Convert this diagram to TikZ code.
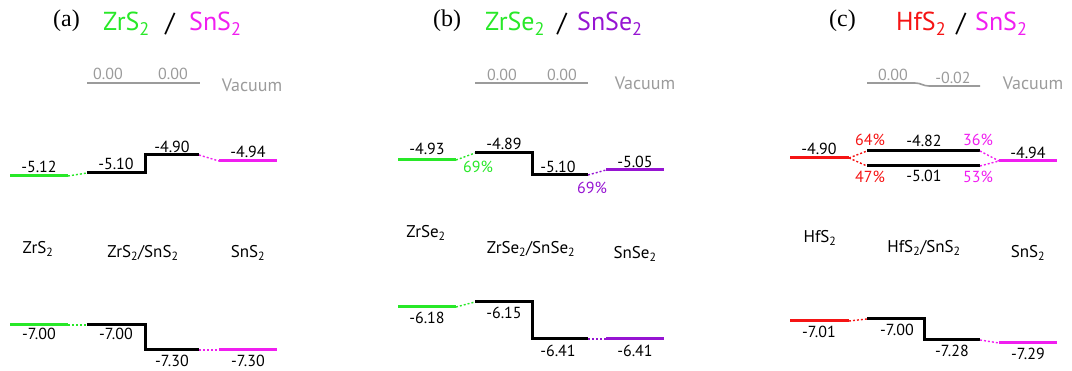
\documentclass[tikz,border=0pt]{standalone}
\usepackage{fontspec}
\setsansfont{PT Sans}
\setmainfont{Liberation Serif}
\usepackage{xcolor}
\definecolor{cgreen}{RGB}{40,232,40}
\definecolor{cmag}{RGB}{240,30,240}
\definecolor{cpurp}{RGB}{150,20,210}
\definecolor{cred}{RGB}{245,20,20}
\definecolor{cgray}{RGB}{155,155,155}
\begin{document}
\begin{tikzpicture}[x=1pt,y=-1pt,
  lvl/.style={line width=3pt},
  conn/.style={line width=1.4pt,dash pattern=on 2pt off 2pt},
  vac/.style={line width=1.6pt,cgray},
  num/.style={font=\sffamily\fontsize{16}{18}\selectfont,inner sep=0pt},
  vnum/.style={num,text=cgray},
  vacl/.style={font=\sffamily\fontsize{18}{20}\selectfont,text=cgray,inner sep=0pt},
  mat/.style={font=\sffamily\fontsize{17}{19}\selectfont,inner sep=0pt,anchor=base},
  ttl/.style={font=\sffamily\fontsize{26}{30}\selectfont,inner sep=0pt,anchor=base west},
  plab/.style={font=\rmfamily\fontsize{24}{27}\selectfont,inner sep=0pt,anchor=base west},
  slash/.style={font=\sffamily\fontsize{26}{30}\selectfont,inner sep=0pt}]
\path[use as bounding box] (0,0) rectangle (1072,371);

%% ================= panel (a) =================
\node[plab] (ta) at (53,27) {(a)};
\node[ttl,text=cgreen] (ta1) at (103,31) {ZrS\textsubscript{2}};
\node[slash] (ta2) at (170,24) {/};
\node[ttl,text=cmag] (ta3) at (189,31) {SnS\textsubscript{2}};
% vacuum
\coordinate (av1) at (87,83); \coordinate (av2) at (200,83);
\draw[vac] (av1) -- (av2);
\node[vnum] (avl1) at (108,74) {0.00};
\node[vnum] (avl2) at (173,74) {0.00};
\node[vacl] (avac) at (252,85) {Vacuum};
% CB
\coordinate (aZc1) at (10,176); \coordinate (aZc2) at (68,176);
\coordinate (aHc1) at (87,173); \coordinate (aHc2) at (145,173);
\coordinate (aHc3) at (145,155); \coordinate (aHc4) at (199,155);
\coordinate (aSc1) at (219,161); \coordinate (aSc2) at (277,161);
\draw[lvl,cgreen] (aZc1) -- (aZc2);
\draw[conn,cgreen] (aZc2) -- (aHc1);
\draw[lvl] (aHc1) -- (aHc2) -- (aHc3) -- (aHc4);
\draw[conn,cmag] (aHc4) -- (aSc1);
\draw[lvl,cmag] (aSc1) -- (aSc2);
\node[num] (an1) at (39,167) {-5.12};
\node[num] (an2) at (116,164) {-5.10};
\node[num] (an3) at (172,147) {-4.90};
\node[num] (an4) at (248,152) {-4.94};
% names
\node[mat] (am1) at (38,254) {ZrS\textsubscript{2}};
\node[mat] (am2) at (143,258) {ZrS\textsubscript{2}/SnS\textsubscript{2}};
\node[mat] (am3) at (248,258) {SnS\textsubscript{2}};
% VB
\coordinate (aZv1) at (10,325); \coordinate (aZv2) at (68,325);
\coordinate (aHv1) at (87,325); \coordinate (aHv2) at (145,325);
\coordinate (aHv3) at (145,350); \coordinate (aHv4) at (199,350);
\coordinate (aSv1) at (219,350); \coordinate (aSv2) at (277,350);
\draw[lvl,cgreen] (aZv1) -- (aZv2);
\draw[conn,cgreen] (aZv2) -- (aHv1);
\draw[lvl] (aHv1) -- (aHv2) -- (aHv3) -- (aHv4);
\draw[conn,cmag] (aHv4) -- (aSv1);
\draw[lvl,cmag] (aSv1) -- (aSv2);
\node[num] (an5) at (39,334) {-7.00};
\node[num] (an6) at (116,334) {-7.00};
\node[num] (an7) at (172,361) {-7.30};
\node[num] (an8) at (248,361) {-7.30};

%% ================= panel (b) =================
\node[plab] (tb) at (433,27) {(b)};
\node[ttl,text=cgreen] (tb1) at (485,31) {ZrSe\textsubscript{2}};
\node[slash] (tb2) at (562,24) {/};
\node[ttl,text=cpurp] (tb3) at (577,31) {SnSe\textsubscript{2}};
\coordinate (bv1) at (475,83); \coordinate (bv2) at (588,83);
\draw[vac] (bv1) -- (bv2);
\node[vnum] (bvl1) at (502,75) {0.00};
\node[vnum] (bvl2) at (562,75) {0.00};
\node[vacl] (bvac) at (645,83) {Vacuum};
% CB
\coordinate (bZc1) at (398,160); \coordinate (bZc2) at (456,160);
\coordinate (bHc1) at (475,153); \coordinate (bHc2) at (532,153);
\coordinate (bHc3) at (532,175); \coordinate (bHc4) at (588,175);
\coordinate (bSc1) at (606,170); \coordinate (bSc2) at (664,170);
\draw[lvl,cgreen] (bZc1) -- (bZc2);
\draw[conn,cgreen] (bZc2) -- (bHc1);
\draw[lvl] (bHc1) -- (bHc2) -- (bHc3) -- (bHc4);
\draw[conn,cpurp] (bHc4) -- (bSc1);
\draw[lvl,cpurp] (bSc1) -- (bSc2);
\node[num] (bn1) at (427,149) {-4.93};
\node[num] (bn2) at (504,144) {-4.89};
\node[num] (bn3) at (558,167) {-5.10};
\node[num] (bn4) at (635,162) {-5.05};
\node[num,text=cgreen] (bp1) at (478,167) {69\%};
\node[num,text=cpurp] (bp2) at (592,188) {69\%};
% names
\node[mat] (bm1) at (426,238) {ZrSe\textsubscript{2}};
\node[mat] (bm2) at (531,254) {ZrSe\textsubscript{2}/SnSe\textsubscript{2}};
\node[mat] (bm3) at (635,259) {SnSe\textsubscript{2}};
% VB
\coordinate (bZv1) at (398,307); \coordinate (bZv2) at (456,307);
\coordinate (bHv1) at (475,302); \coordinate (bHv2) at (532,302);
\coordinate (bHv3) at (532,339); \coordinate (bHv4) at (588,339);
\coordinate (bSv1) at (606,339); \coordinate (bSv2) at (664,339);
\draw[lvl,cgreen] (bZv1) -- (bZv2);
\draw[conn,cgreen] (bZv2) -- (bHv1);
\draw[lvl] (bHv1) -- (bHv2) -- (bHv3) -- (bHv4);
\draw[conn,cpurp] (bHv4) -- (bSv1);
\draw[lvl,cpurp] (bSv1) -- (bSv2);
\node[num] (bn5) at (427,318) {-6.18};
\node[num] (bn6) at (504,313) {-6.15};
\node[num] (bn7) at (558,351) {-6.41};
\node[num] (bn8) at (635,351) {-6.41};

%% ================= panel (c) =================
\node[plab] (tc) at (829,27) {(c)};
\node[ttl,text=cred] (tc1) at (896,31) {HfS\textsubscript{2}};
\node[slash] (tc2) at (961,24) {/};
\node[ttl,text=cmag] (tc3) at (975,31) {SnS\textsubscript{2}};
\coordinate (cv1) at (867,83); \coordinate (cv2) at (915,83);
\coordinate (cv3) at (929,86); \coordinate (cv4) at (980,86);
\draw[vac] (cv1) -- (cv2) .. controls (921,83) and (923,86) .. (cv3) -- (cv4);
\node[vnum] (cvl1) at (893,75) {0.00};
\node[vnum] (cvl2) at (953,78) {-0.02};
\node[vacl] (cvac) at (1033,83) {Vacuum};
% CB
\coordinate (cHc1) at (790,158); \coordinate (cHc2) at (849,158);
\coordinate (cTa) at (867,151); \coordinate (cTb) at (980,151);
\coordinate (cBa) at (867,166); \coordinate (cBb) at (980,166);
\coordinate (cSc1) at (999,161); \coordinate (cSc2) at (1057,161);
\draw[lvl,cred] (cHc1) -- (cHc2);
\draw[conn,cred] (cHc2) -- (cTa);
\draw[conn,cred] (cHc2) -- (cBa);
\draw[lvl] (cTa) -- (cTb);
\draw[lvl] (cBa) -- (cBb);
\draw[conn,cmag] (cTb) -- (cSc1);
\draw[conn,cmag] (cBb) -- (cSc1);
\draw[lvl,cmag] (cSc1) -- (cSc2);
\node[num] (cn1) at (819,149) {-4.90};
\node[num] (cn2) at (924,141) {-4.82};
\node[num] (cn3) at (924,176) {-5.01};
\node[num] (cn4) at (1028,153) {-4.94};
\node[num,text=cred] (cp1) at (870,140) {64\%};
\node[num,text=cred] (cp2) at (870,177) {47\%};
\node[num,text=cmag] (cp3) at (978,140) {36\%};
\node[num,text=cmag] (cp4) at (978,177) {53\%};
% names
\node[mat] (cm1) at (820,243) {HfS\textsubscript{2}};
\node[mat] (cm2) at (924,253) {HfS\textsubscript{2}/SnS\textsubscript{2}};
\node[mat] (cm3) at (1028,258) {SnS\textsubscript{2}};
% VB
\coordinate (cHv1) at (790,321); \coordinate (cHv2) at (849,321);
\coordinate (cJv1) at (867,319); \coordinate (cJv2) at (924,319);
\coordinate (cJv3) at (924,340); \coordinate (cJv4) at (980,340);
\coordinate (cSv1) at (999,343); \coordinate (cSv2) at (1057,343);
\draw[lvl,cred] (cHv1) -- (cHv2);
\draw[conn,cred] (cHv2) -- (cJv1);
\draw[lvl] (cJv1) -- (cJv2) -- (cJv3) -- (cJv4);
\draw[conn,cmag] (cJv4) -- (cSv1);
\draw[lvl,cmag] (cSv1) -- (cSv2);
\node[num] (cn5) at (819,332) {-7.01};
\node[num] (cn6) at (897,330) {-7.00};
\node[num] (cn7) at (952,351) {-7.28};
\node[num] (cn8) at (1028,354) {-7.29};
\end{tikzpicture}
\end{document}
